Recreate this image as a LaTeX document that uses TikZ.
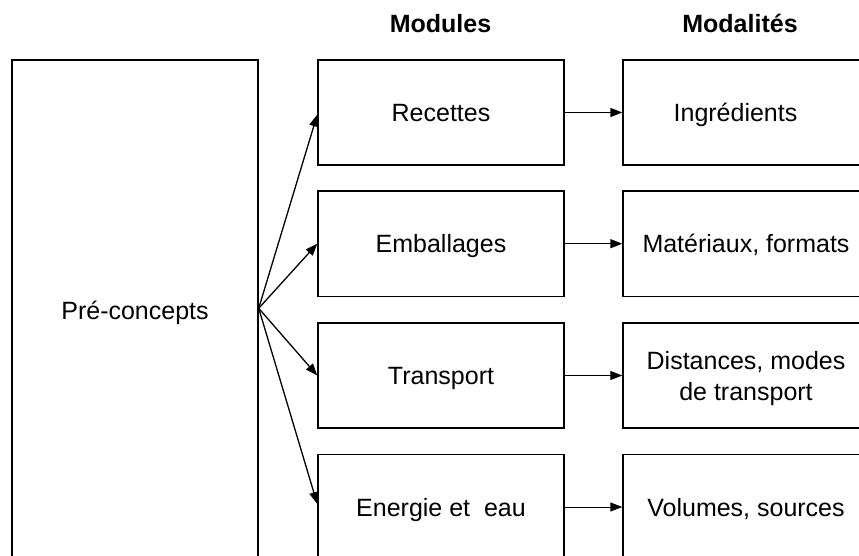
\documentclass[tikz,border=0pt]{standalone}
\usepackage{fontspec}
\setmainfont{Liberation Sans}
\usetikzlibrary{arrows.meta}
\begin{document}
\begin{tikzpicture}[x=1pt,y=-1pt,
  box/.style={draw=black,line width=1.4pt,rectangle,minimum width=246pt,minimum height=105pt,inner sep=0pt,align=center,
    text height=18pt,text depth=0pt,font=\fontsize{25}{31}\selectfont},
  head/.style={font=\fontsize{25}{30}\selectfont\bfseries,anchor=base,inner sep=0pt},
  fan/.style={line width=1.3pt,-{Triangle[length=12pt,width=9pt]}},
  link/.style={line width=1.5pt,-{Triangle[length=12pt,width=9pt]}},
  thinlink/.style={line width=0.9pt,-{Triangle[length=12pt,width=9pt]}}]
\useasboundingbox (0,0) rectangle (859,556);
\fill[white] (0,0) rectangle (859,556);
\clip (0,0) rectangle (859,556);
\node[head] (hmod) at (440.5,33) {Modules};
\node[head] (hmoda) at (740,33) {Modalités};
\node[box,minimum height=500pt] (pre) at (135,310) {Pré-concepts};
\node[box] (m1) at (441,112.5) {Recettes};
\node[box] (m2) at (441,243.7) {Emballages};
\node[box] (m3) at (441,375.5) {Transport};
\node[box] (m4) at (441,507) {Energie et \ eau};
\node[box] (d1) at (746,112.5) {Ingrédients\hspace*{21pt}};
\node[box] (d2) at (746,243.7) {Matériaux, formats};
\node[box,text height=49pt] (d3) at (746,375.5) {Distances, modes\\de transport};
\node[box] (d4) at (746,507) {Volumes, sources};
\coordinate (o) at (pre.east |- 0,308.3);
\draw[fan] (o) -- ([yshift=-2pt]m1.west);
\draw[fan] (o) -- (m2.west);
\draw[fan] (o) -- (m3.west);
\draw[fan] (o) -- ([yshift=3pt]m4.west);
\draw[link] (m1.east) -- (d1.west);
\draw[link] (m2.east) -- (d2.west);
\draw[thinlink] (m3.east) -- (d3.west);
\draw[thinlink] (m4.east) -- (d4.west);
\end{tikzpicture}
\end{document}
